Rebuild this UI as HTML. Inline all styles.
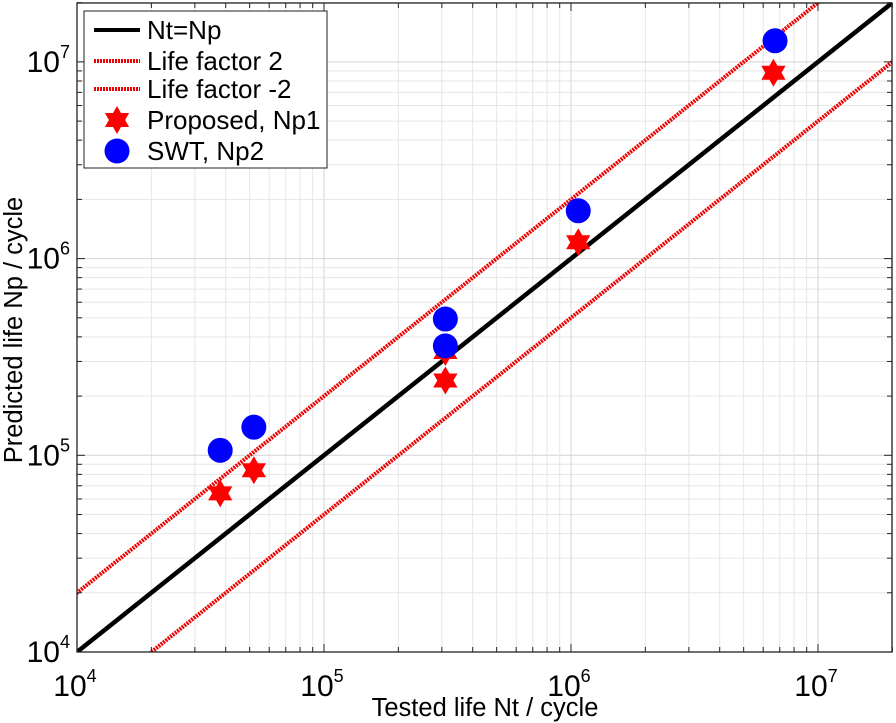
<!DOCTYPE html>
<html><head><meta charset="utf-8"><style>
html,body{margin:0;padding:0;background:#fff;overflow:hidden;width:896px;height:723px;}
svg{display:block;}
svg text{font-family:"Liberation Sans",Arial,sans-serif;fill:#000;}
</style></head><body>
<svg id="chart" width="896" height="723" xmlns="http://www.w3.org/2000/svg">
<defs><clipPath id="pc"><rect x="77" y="3" width="815" height="649"/></clipPath></defs>
<g id="grid"></g>
<g id="lines" clip-path="url(#pc)"></g>
<g id="marks"></g>
<rect x="77" y="3" width="815" height="649" fill="none" stroke="#222" stroke-width="1.3"/>
<g id="ticks"></g>
<text x="485" y="716" font-size="25.5" text-anchor="middle">Tested life Nt / cycle</text>
<text transform="translate(22,330) rotate(-90)" font-size="25.5" text-anchor="middle">Predicted life Np / cycle</text>
<g>
<rect x="84" y="11" width="243" height="157" fill="#fff" stroke="#222" stroke-width="1"/>
<line x1="94" y1="30" x2="140" y2="30" stroke="#000" stroke-width="4"/>
<text x="147" y="39" font-size="26">Nt=Np</text>
<line x1="94" y1="61" x2="140" y2="61" stroke="#e00" stroke-width="4" stroke-dasharray="2 1"/>
<text x="147" y="70" font-size="26">Life factor 2</text>
<line x1="94" y1="89" x2="140" y2="89" stroke="#e00" stroke-width="4" stroke-dasharray="2 1"/>
<text x="147" y="98" font-size="26">Life factor -2</text>
<g id="legstar"></g>
<text x="147" y="129" font-size="26">Proposed, Np1</text>
<circle cx="117" cy="151" r="12.5" fill="#0000ff"/>
<text x="147" y="160" font-size="26">SWT, Np2</text>
</g>
</svg>
<script>
const testedNp1 = [3.8e4, 5.2e4, 3.1e5, 3.1e5, 1.07e6, 6.6e6];
const proposedNp1 = [6.4e4, 8.4e4, 3.35e5, 2.4e5, 1.21e6, 8.8e6];
const testedNp2 = [3.8e4, 5.2e4, 3.1e5, 3.1e5, 1.07e6, 6.7e6];
const swtNp2 = [1.06e5, 1.39e5, 4.93e5, 3.6e5, 1.75e6, 1.28e7];
const lifeFactors = [1, 2, 0.5];
const xTickExps = [4, 5, 6, 7];
const yTickExps = [4, 5, 6, 7];

const NS = "http://www.w3.org/2000/svg";
const X0 = 77, X1 = 892, Y0 = 652, Y1 = 3;
const DX = 247, DY = 196.7;
const xs = v => X0 + (Math.log10(v) - 4) * DX;
const ys = v => Y0 - (Math.log10(v) - 4) * DY;
function mk(tag, attrs, parent) {
  const e = document.createElementNS(NS, tag);
  for (const k in attrs) e.setAttribute(k, attrs[k]);
  parent.appendChild(e);
  return e;
}
const grid = document.getElementById('grid'), ticks = document.getElementById('ticks');
const lines = document.getElementById('lines'), marks = document.getElementById('marks');
for (let e = 4; e <= 7; e++) {
  for (let m = 1; m <= 9; m++) {
    const v = m * Math.pow(10, e);
    const x = xs(v);
    if (x <= X1 + 0.5) {
      const g = mk('line', {x1: x, x2: x, y1: Y1, y2: Y0, stroke: m === 1 ? '#d4d4d4' : '#e6e6e6', 'stroke-width': 1}, grid);
      
      
      const len = m === 1 ? 8 : 5;
      const t1 = mk('line', {x1: x, x2: x, y1: Y0, y2: Y0 - len, stroke: '#222', 'stroke-width': 1}, ticks);
      
      
      const t2 = mk('line', {x1: x, x2: x, y1: Y1, y2: Y1 + len, stroke: '#222', 'stroke-width': 1}, ticks);
      
      
    }
    const y = ys(v);
    if (y >= Y1 - 0.5) {
      const g = mk('line', {x1: X0, x2: X1, y1: y, y2: y, stroke: m === 1 ? '#d4d4d4' : '#e6e6e6', 'stroke-width': 1}, grid);
      
      
      const len = m === 1 ? 8 : 5;
      const t1 = mk('line', {x1: X0, x2: X0 + len, y1: y, y2: y, stroke: '#222', 'stroke-width': 1}, ticks);
      
      
      const t2 = mk('line', {x1: X1, x2: X1 - len, y1: y, y2: y, stroke: '#222', 'stroke-width': 1}, ticks);
      
      
    }
  }
}
xTickExps.forEach(e => {
  const x = xs(Math.pow(10, e));
  const t = mk('text', {x: x - 2, y: 696, 'font-size': 30, 'text-anchor': 'middle'}, ticks);
  
  
  t.innerHTML = '10<tspan font-size="18" dy="-14">' + e + '</tspan>';
});
yTickExps.forEach(e => {
  const y = ys(Math.pow(10, e));
  const t = mk('text', {x: 70, y: y + 10, 'font-size': 30, 'text-anchor': 'end'}, ticks);
  
  
  t.innerHTML = '10<tspan font-size="18" dy="-14">' + e + '</tspan>';
});
lifeFactors.forEach((f, i) => {
  const a = 1e3, b = 1e8;
  const l = mk('line', {x1: xs(a), y1: ys(a * f), x2: xs(b), y2: ys(b * f),
    stroke: i === 0 ? '#000' : '#e00', 'stroke-width': i === 0 ? 4.5 : 4}, lines);
  if (i > 0) l.setAttribute('stroke-dasharray', '2 1');
  
  
});
function starPts(cx, cy, r) {
  const ri = r * 0.577, p = [];
  for (let k = 0; k < 12; k++) {
    const ang = -Math.PI / 2 + k * Math.PI / 6;
    const rr = k % 2 === 0 ? r : ri;
    p.push((cx + rr * Math.cos(ang)).toFixed(1) + ',' + (cy + rr * Math.sin(ang)).toFixed(1));
  }
  return p.join(' ');
}
const ls = mk('polygon', {points: starPts(117, 120, 14), fill: '#ff0000'}, document.getElementById('legstar'));


testedNp1.forEach((t, i) => {
  const s = mk('polygon', {points: starPts(xs(t), ys(proposedNp1[i]), 14), fill: '#ff0000'}, marks);
  
  
});
testedNp2.forEach((t, i) => {
  const c = mk('circle', {cx: xs(t), cy: ys(swtNp2[i]), r: 12.5, fill: '#0000ff'}, marks);
  
  
});
</script>
</body></html>
